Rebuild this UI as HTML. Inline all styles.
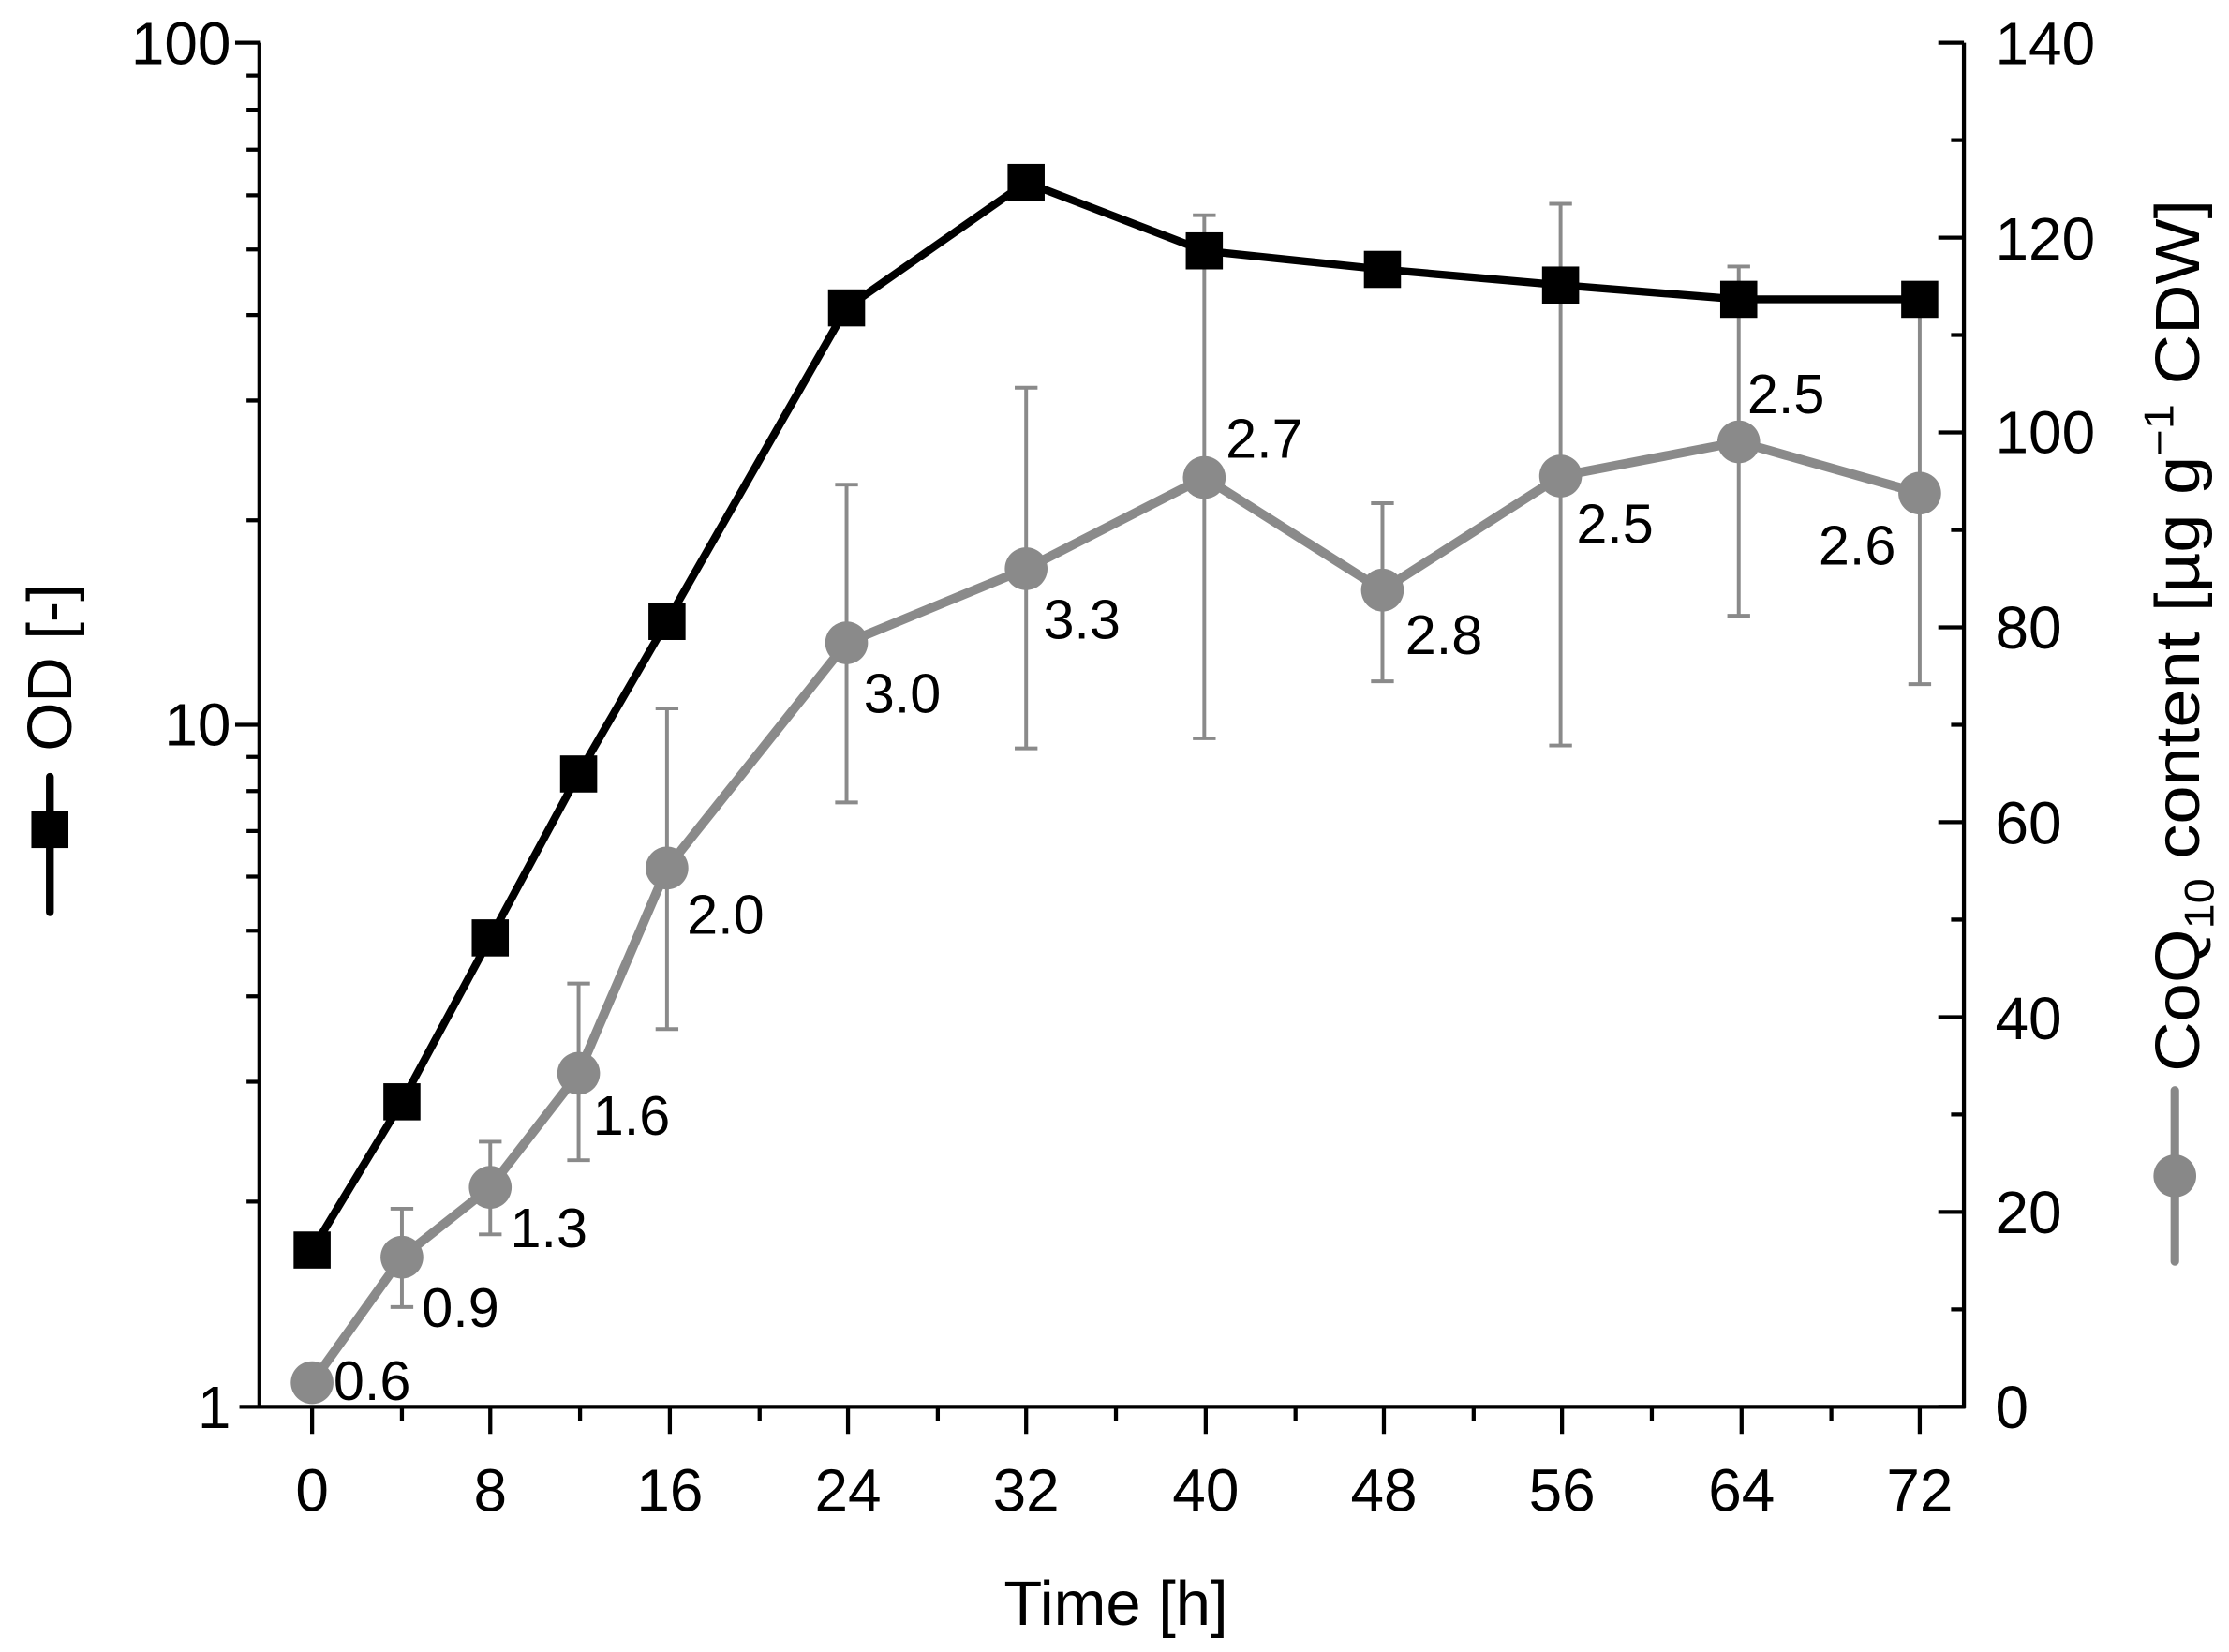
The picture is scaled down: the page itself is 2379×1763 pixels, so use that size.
<!DOCTYPE html>
<html><head><meta charset="utf-8"><style>
html,body{margin:0;padding:0;background:#fff;}
svg{display:block;}
text{font-family:"Liberation Sans",Arial,sans-serif;}
</style></head><body>
<svg width="2379" height="1763" viewBox="0 0 1564 1159" preserveAspectRatio="none" xmlns="http://www.w3.org/2000/svg">
<g stroke="#000" stroke-width="2.8" fill="none">
<line x1="182" y1="30" x2="182" y2="988"/>
<line x1="1378" y1="30" x2="1378" y2="988"/>
<line x1="168" y1="987" x2="1379" y2="987"/>
<line x1="165" y1="30" x2="183" y2="30"/>
<line x1="165" y1="508.5" x2="183" y2="508.5"/>
<path d="M173 843h9M173 759h9M173 699h9M173 653h9M173 615h9M173 583h9M173 555h9M173 531h9M173 365h9M173 281h9M173 221h9M173 175h9M173 137h9M173 105h9M173 77h9M173 53h9"/>
<path d="M1360 30h18M1360 166.7h18M1360 303.4h18M1360 440.1h18M1360 576.8h18M1360 713.6h18M1360 850.3h18M1360 987h18"/>
<path d="M1369 98.4h9M1369 235h9M1369 371.8h9M1369 508.5h9M1369 645.2h9M1369 781.9h9M1369 918.6h9"/>
<path d="M219 987v19M344 987v19M470 987v19M595 987v19M720 987v19M846 987v19M971 987v19M1096 987v19M1222 987v19M1347 987v19"/>
<path d="M282 987v10M407 987v10M533 987v10M658 987v10M783 987v10M909 987v10M1034 987v10M1159 987v10M1285 987v10"/>
</g>
<g font-size="42" fill="#000" text-anchor="end">
<text x="162" y="45">100</text>
<text x="162" y="523">10</text>
<text x="162" y="1002">1</text>
</g>
<g font-size="42" fill="#000" text-anchor="start">
<text x="1400" y="45">140</text>
<text x="1400" y="182">120</text>
<text x="1400" y="318">100</text>
<text x="1400" y="455">80</text>
<text x="1400" y="592">60</text>
<text x="1400" y="729">40</text>
<text x="1400" y="865">20</text>
<text x="1400" y="1002">0</text>
</g>
<g font-size="42" fill="#000" text-anchor="middle">
<text x="219" y="1060">0</text><text x="344" y="1060">8</text><text x="470" y="1060">16</text>
<text x="595" y="1060">24</text><text x="720" y="1060">32</text><text x="846" y="1060">40</text>
<text x="971" y="1060">48</text><text x="1096" y="1060">56</text><text x="1222" y="1060">64</text>
<text x="1347" y="1060">72</text>
<text x="783" y="1140" font-size="44">Time [h]</text>
</g>
<g transform="translate(50,0) rotate(-90)">
<line x1="-640" y1="-15" x2="-545" y2="-15" stroke="#000" stroke-width="5.5" stroke-linecap="round"/>
<rect x="-595" y="-28" width="26" height="26" fill="#000"/>
<text x="-527" y="0" font-size="44" fill="#000">OD [-]</text>
</g>
<g transform="translate(1543,0) rotate(-90)">
<line x1="-885" y1="-17" x2="-765" y2="-17" stroke="#888" stroke-width="6" stroke-linecap="round"/>
<circle cx="-825" cy="-17" r="15" fill="#888"/>
<text x="-752" y="0" font-size="44" fill="#000" textLength="612" lengthAdjust="spacingAndGlyphs">CoQ<tspan font-size="29" dy="10">10</tspan><tspan dy="-10"> content [µg g</tspan><tspan font-size="29" dy="-18">−1</tspan><tspan dy="18"> CDW]</tspan></text>
</g>
<g stroke="#8a8a8a" stroke-width="2.6">
<path d="M282 848v69M274 848h16M274 917h16"/>
<path d="M344 801v65M336 801h16M336 866h16"/>
<path d="M406 690v124M398 690h16M398 814h16"/>
<path d="M468 497v225M460 497h16M460 722h16"/>
<path d="M594 340v223M586 340h16M586 563h16"/>
<path d="M720 272v253M712 272h16M712 525h16"/>
<path d="M845 151v367M837 151h16M837 518h16"/>
<path d="M970 353v125M962 353h16M962 478h16"/>
<path d="M1095 143v380M1087 143h16M1087 523h16"/>
<path d="M1220 187v245M1212 187h16M1212 432h16"/>
<path d="M1347 200v280M1339 200h16M1339 480h16"/>
</g>
<polyline fill="none" stroke="#000" stroke-width="5.5" stroke-linejoin="round" points="219,877 282,773 344,658 406,543 468,436 594,216 720,128 845,176 970,189 1095,200 1220,210 1347,210"/>
<g fill="#000">
<rect x="206" y="864" width="26" height="26"/><rect x="269" y="760" width="26" height="26"/>
<rect x="331" y="645" width="26" height="26"/><rect x="393" y="530" width="26" height="26"/>
<rect x="455" y="423" width="26" height="26"/><rect x="581" y="203" width="26" height="26"/>
<rect x="707" y="115" width="26" height="26"/><rect x="832" y="163" width="26" height="26"/>
<rect x="957" y="176" width="26" height="26"/><rect x="1082" y="187" width="26" height="26"/>
<rect x="1207" y="197" width="26" height="26"/><rect x="1334" y="197" width="26" height="26"/>
</g>
<polyline fill="none" stroke="#8a8a8a" stroke-width="6.5" stroke-linejoin="round" points="219,970 282,882 344,833 406,753 468,609 594,451 720,399 845,335 970,414 1095,334 1220,310 1347,346"/>
<g fill="#8a8a8a">
<circle cx="219" cy="970" r="15"/><circle cx="282" cy="882" r="15"/><circle cx="344" cy="833" r="15"/>
<circle cx="406" cy="753" r="15"/><circle cx="468" cy="609" r="15"/><circle cx="594" cy="451" r="15"/>
<circle cx="720" cy="399" r="15"/><circle cx="845" cy="335" r="15"/><circle cx="970" cy="414" r="15"/>
<circle cx="1095" cy="334" r="15"/><circle cx="1220" cy="310" r="15"/><circle cx="1347" cy="346" r="15"/>
</g>
<g font-size="39" fill="#000">
<text x="234" y="982">0.6</text><text x="296" y="931">0.9</text><text x="358" y="875">1.3</text>
<text x="416" y="796">1.6</text><text x="482" y="655">2.0</text><text x="606" y="500">3.0</text>
<text x="732" y="448">3.3</text><text x="860" y="321">2.7</text><text x="986" y="459">2.8</text>
<text x="1106" y="381">2.5</text><text x="1226" y="290">2.5</text><text x="1276" y="396">2.6</text>
</g>
</svg>
</body></html>
